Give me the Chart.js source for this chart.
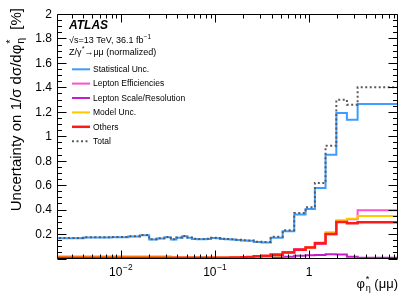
<!DOCTYPE html>
<html><head><meta charset="utf-8">
<script src="https://cdn.jsdelivr.net/npm/chart.js@4.4.1/dist/chart.umd.min.js"></script>
<style>html,body{margin:0;padding:0;background:#fff}#wrap{width:411px;height:297px}canvas{display:block}</style>
</head><body>
<div id="wrap"><canvas id="c" width="411" height="297"></canvas></div>
<script>
// ---- data ----
const binEdges = [0, 0.004, 0.008, 0.012, 0.016, 0.02, 0.024, 0.029, 0.034, 0.039, 0.045, 0.051, 0.057, 0.064, 0.072, 0.081, 0.091, 0.102, 0.114, 0.128, 0.145, 0.165, 0.189, 0.219, 0.258, 0.312, 0.391, 0.524, 0.695, 0.918, 1.153, 1.496, 1.947, 2.522, 3.277, 5, 10];
const statUnc = [0.164, 0.166, 0.171, 0.174, 0.179, 0.190, 0.155, 0.163, 0.174, 0.155, 0.169, 0.182, 0.170, 0.160, 0.157, 0.157, 0.160, 0.168, 0.165, 0.160, 0.157, 0.155, 0.152, 0.147, 0.145, 0.135, 0.130, 0.169, 0.223, 0.360, 0.405, 0.577, 0.849, 1.190, 1.135, 1.263];
const lepEff = [0.006, 0.006, 0.006, 0.006, 0.006, 0.006, 0.006, 0.006, 0.006, 0.006, 0.006, 0.006, 0.006, 0.006, 0.006, 0.006, 0.006, 0.006, 0.006, 0.006, 0.006, 0.006, 0.006, 0.006, 0.006, 0.012, 0.018, 0.035, 0.053, 0.077, 0.092, 0.118, 0.198, 0.305, 0.322, 0.395];
const lepScale = [0.003, 0.003, 0.003, 0.003, 0.003, 0.003, 0.003, 0.003, 0.003, 0.003, 0.003, 0.003, 0.003, 0.003, 0.003, 0.003, 0.003, 0.003, 0.003, 0.003, 0.003, 0.003, 0.003, 0.003, 0.003, 0.003, 0.003, 0.010, 0.014, 0.022, 0.026, 0.028, 0.035, 0.033, 0.014, 0.007];
const modelUnc = [0.018, 0.018, 0.018, 0.018, 0.018, 0.018, 0.018, 0.018, 0.018, 0.009, 0.009, 0.009, 0.009, 0.009, 0.009, 0.009, 0.009, 0.009, 0.009, 0.009, 0.009, 0.009, 0.009, 0.009, 0.009, 0.009, 0.009, 0.025, 0.046, 0.070, 0.090, 0.130, 0.215, 0.313, 0.325, 0.348];
const others = [0.007, 0.007, 0.007, 0.007, 0.007, 0.007, 0.007, 0.007, 0.007, 0.007, 0.007, 0.007, 0.007, 0.007, 0.007, 0.007, 0.007, 0.007, 0.007, 0.007, 0.007, 0.008, 0.009, 0.010, 0.012, 0.018, 0.022, 0.030, 0.050, 0.072, 0.090, 0.125, 0.200, 0.299, 0.288, 0.297];
const total = [0.166, 0.168, 0.173, 0.176, 0.181, 0.192, 0.157, 0.165, 0.176, 0.157, 0.171, 0.184, 0.172, 0.162, 0.159, 0.159, 0.162, 0.170, 0.167, 0.162, 0.159, 0.157, 0.154, 0.149, 0.148, 0.138, 0.134, 0.177, 0.231, 0.373, 0.420, 0.618, 0.922, 1.298, 1.257, 1.400];
const seriesNames = ['Statistical Unc.', 'Lepton Efficiencies', 'Lepton Scale/Resolution', 'Model Unc.', 'Others', 'Total'];
const yTicks = [0.2, 0.4, 0.6, 0.8, 1, 1.2, 1.4, 1.6, 1.8, 2];
const yTickLabels = ['0.2', '0.4', '0.6', '0.8', '1', '1.2', '1.4', '1.6', '1.8', '2'];
const xMajorTicks = [0.01, 0.1, 1];
const xTickLabels = ['10^-2', '10^-1', '1'];

// ---- style ----
const X_MIN = 0.0021, X_MAX = 8.8, Y_MIN = 0, Y_MAX = 2;
const FONT = '"Liberation Sans", Arial, Helvetica, sans-serif';
const colors = ['#3d9cff', '#ff4fd0', '#c21fc8', '#ffc800', '#ff1a1a', '#5a5a5a'];
const widths = [2, 2, 2, 2, 2.5, 2];

function histPoints(vals) {
  const pts = [{x: X_MIN, y: 0}];
  for (let i = 0; i < vals.length; i++) {
    pts.push({x: Math.max(binEdges[i], X_MIN), y: vals[i]});
  }
  pts.push({x: binEdges[binEdges.length - 1], y: vals[vals.length - 1]});
  return pts;
}
const seriesVals = [statUnc, lepEff, lepScale, modelUnc, others, total];
const drawOrder = [5, 4, 3, 2, 1, 0];
const datasets = seriesVals.map((v, i) => ({
  label: seriesNames[i],
  data: histPoints(v),
  stepped: 'after',
  borderColor: colors[i],
  borderWidth: widths[i],
  borderDash: i === 5 ? [2, 2.5] : [],
  pointRadius: 0,
  fill: false,
  order: drawOrder[i],
  borderJoinStyle: 'miter',
  borderCapStyle: 'butt'
}));

// rich text helper: parts of {t} / {sup} / {sub} / {sup,sub}
function richWidth(ctx, parts, size, base) {
  let w = 0;
  for (const p of parts) {
    if (p.t !== undefined) { ctx.font = base + ' ' + size + 'px ' + FONT; w += ctx.measureText(p.t).width; }
    else {
      ctx.font = base + ' ' + (size * 0.7) + 'px ' + FONT;
      const a = p.sup ? ctx.measureText(p.sup).width : 0;
      const b = p.sub ? ctx.measureText(p.sub).width : 0;
      w += Math.max(a, b) + size * 0.05;
    }
  }
  return w;
}
function drawRich(ctx, x, y, parts, size, base) {
  ctx.textBaseline = 'alphabetic';
  ctx.textAlign = 'left';
  for (const p of parts) {
    if (p.t !== undefined) {
      ctx.font = base + ' ' + size + 'px ' + FONT;
      ctx.fillText(p.t, x, y);
      x += ctx.measureText(p.t).width;
    } else {
      ctx.font = base + ' ' + (size * 0.7) + 'px ' + FONT;
      let w = 0;
      if (p.sup) { ctx.fillText(p.sup, x + size * 0.05, y - size * 0.42); w = Math.max(w, ctx.measureText(p.sup).width); }
      if (p.sub) { ctx.fillText(p.sub, x + size * 0.05, y + size * 0.25); w = Math.max(w, ctx.measureText(p.sub).width); }
      x += w + size * 0.05;
    }
  }
}

const framePlugin = {
  id: 'frame',
  afterDatasetsDraw(chart) {
    const {ctx, chartArea: a, scales: {x, y}} = chart;
    ctx.save();
    ctx.fillStyle = '#000';
    ctx.strokeStyle = '#000';
    ctx.lineWidth = 1;
    const L = Math.round(a.left) + 0.5, R = Math.round(a.right) - 0.5;
    const T = Math.round(a.top) + 0.5, B = Math.round(a.bottom) - 0.5;
    ctx.beginPath();
    ctx.rect(L, T, R - L, B - T);
    ctx.stroke();
    // y ticks (every 0.05, major every 0.2)
    ctx.beginPath();
    for (let k = 0; k <= 40; k++) {
      const v = k * 0.05;
      const py = Math.round(y.getPixelForValue(v)) + 0.5;
      const len = (k % 4 === 0) ? 9 : 4.5;
      ctx.moveTo(L, py); ctx.lineTo(L + len, py);
      ctx.moveTo(R, py); ctx.lineTo(R - len, py);
    }
    // x ticks (log)
    for (let e = -3; e <= 1; e++) {
      for (let m = 1; m <= 9; m++) {
        const v = m * Math.pow(10, e);
        if (v < X_MIN || v > X_MAX) continue;
        const px = Math.round(x.getPixelForValue(v)) + 0.5;
        const len = m === 1 ? 8 : 4;
        ctx.moveTo(px, B); ctx.lineTo(px, B - len);
        ctx.moveTo(px, T); ctx.lineTo(px, T + len);
      }
    }
    ctx.stroke();
    // y tick labels
    ctx.font = '12px ' + FONT;
    ctx.textAlign = 'right';
    ctx.textBaseline = 'middle';
    yTicks.forEach((v, i) => ctx.fillText(yTickLabels[i], a.left - 5, y.getPixelForValue(v) + 0.5));
    // x tick labels
    xMajorTicks.forEach((v, i) => {
      const [b, ex] = xTickLabels[i].split('^');
      const parts = ex ? [{t: b}, {sup: ex.replace('-', '\u2212')}] : [{t: b}];
      const w = richWidth(ctx, parts, 12, '');
      drawRich(ctx, x.getPixelForValue(v) - w / 2, a.bottom + 17, parts, 12, '');
    });
    // x title
    const xt = [{t: '\u03c6'}, {sup: '*', sub: '\u03b7'}, {t: ' (\u03bc\u03bc)'}];
    const xw = richWidth(ctx, xt, 13, '');
    drawRich(ctx, a.right - xw, 287.5, xt, 13, '');
    // y title (rotated)
    const yt = [{t: 'Uncertainty on 1/\u03c3 d\u03c3/d\u03c6'}, {sup: '*', sub: '\u03b7'}, {t: '  [%]'}];
    const yw = richWidth(ctx, yt, 15, '');
    ctx.save();
    ctx.translate(20.5, 8);
    ctx.rotate(-Math.PI / 2);
    drawRich(ctx, -yw, 0, yt, 15, '');
    ctx.restore();
    // header texts
    ctx.font = 'italic bold 12px ' + FONT;
    ctx.textAlign = 'left';
    ctx.textBaseline = 'alphabetic';
    ctx.fillText('ATLAS', 69, 28.5);
    drawRich(ctx, 69, 42.5, [{t: '\u221as=13 TeV, 36.1 fb'}, {sup: '\u22121'}], 9, '');
    drawRich(ctx, 69, 55, [{t: 'Z/\u03b3'}, {sup: '*'}, {t: '\u2192\u03bc\u03bc (normalized)'}], 9, '');
    // legend
    const rowY = [69.3, 83.6, 98, 112.4, 126.8, 141.2];
    seriesNames.forEach((name, i) => {
      const yy = rowY[i];
      ctx.beginPath();
      ctx.strokeStyle = colors[i];
      ctx.lineWidth = widths[i];
      ctx.setLineDash(i === 5 ? [2, 2.5] : []);
      ctx.moveTo(72, yy); ctx.lineTo(90, yy);
      ctx.stroke();
      ctx.setLineDash([]);
      ctx.font = '8.5px ' + FONT;
      ctx.fillStyle = '#000';
      ctx.textBaseline = 'middle';
      ctx.fillText(name, 93, yy + 0.5);
    });
    ctx.restore();
  }
};

new Chart(document.getElementById('c'), {
  type: 'line',
  data: {datasets},
  options: {
    responsive: false,
    animation: false,
    devicePixelRatio: 1,
    layout: {padding: {left: 57, right: 13, top: 14, bottom: 38.5}},
    plugins: {legend: {display: false}, tooltip: {enabled: false}},
    scales: {
      x: {type: 'logarithmic', min: X_MIN, max: X_MAX, display: false},
      y: {type: 'linear', min: Y_MIN, max: Y_MAX, display: false}
    }
  },
  plugins: [framePlugin]
});
</script>
</body></html>
